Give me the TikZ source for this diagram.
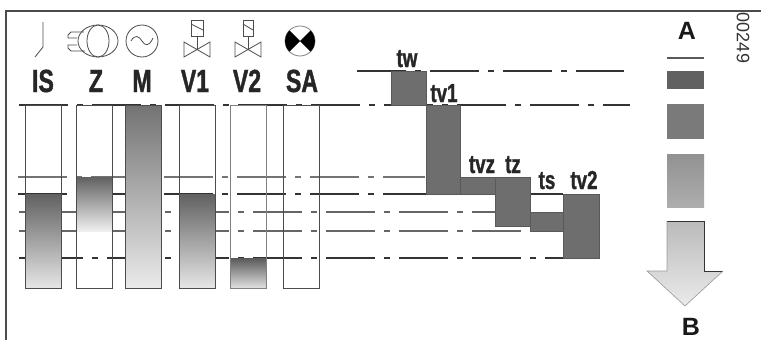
\documentclass[tikz,border=0pt]{standalone}
\usepackage{fontspec}
\setmainfont{Liberation Sans}
\newfontfamily\narrowfont[UprightFont=* Bold,FakeStretch=0.72,FakeBold=1.2]{Liberation Sans}
\usetikzlibrary{positioning,calc}

\tikzset{
	rail/.style={line width=1.1pt,color=black!80,dash pattern=on 49pt off 9pt on 6pt off 9pt},
	railb/.style={rail,dash phase=58pt},
	column/.style={draw=black!70,line width=0.8pt},
	block/.style={fill=black!57,draw=black!65,line width=0.5pt},
	icon/.style={draw=black!70,line width=0.8pt},
	biglabel/.style={font=\narrowfont\fontsize{32}{32}\selectfont,text=black!85,inner sep=0pt,anchor=base},
	timelabel/.style={font=\narrowfont\fontsize{26}{26}\selectfont,text=black!85,inner sep=0pt,anchor=base},
	legendlabel/.style={font=\fontsize{25}{25}\selectfont\bfseries,text=black!90,inner sep=0pt}
}

\begin{document}
\begin{tikzpicture}[x=1pt,y=-1pt]
		
		\useasboundingbox (0,0) rectangle (761,340);
		
		% frame
		\draw[black!70,line width=1.2pt] (6,340)--(6,11)--(761,11);
		
		% icons
		\draw[icon] (43,22)--(43,47)--(35,57);
		
		\draw[icon] (98,41) ellipse (20 and 16);
		\draw[icon] (98,41) ellipse (11 and 16);
		\draw[icon] (84,32)--(71,32)--(68,35)--(68,38)--(77,38);
		\draw[icon] (77,45)--(68,45)--(68,48)--(71,51)--(85,51);
		
		\draw[icon] (142,41) circle (16);
		\draw[icon] (131,41) .. controls (135,34) and (139,36) .. (142,41) .. controls (145,46) and (149,47) .. (153,38);
		
		\draw[icon] (191,20) rectangle (203,36);
		\draw[icon] (191,24)--(203,30);
		\draw[icon] (197,36)--(197,49);
		\draw[icon] (184,42)--(210,57)--(210,42)--(184,57)--cycle;
		
		\draw[icon] (243,20) rectangle (253,36);
		\draw[icon] (243,24)--(253,30);
		\draw[icon] (248,36)--(248,49);
		\draw[icon] (235,42)--(261,57)--(261,42)--(235,57)--cycle;
		
		\draw[icon,black!50] (300,41) circle (15);
		\fill[black] (300,41)--(289.5,30.5) arc (225:135:15)--cycle;
		\fill[black] (300,41)--(310.5,30.5) arc (-45:45:15)--cycle;
		
		% labels
		\node[biglabel] (is) at (43,92) {IS};
		\node[biglabel] (z) at (96,92) {Z};
		\node[biglabel] (m) at (142,92) {M};
		\node[biglabel] (v1) at (195,92) {V1};
		\node[biglabel] (v2) at (247,92) {V2};
		\node[biglabel] (sa) at (302,92) {SA};
		
		% time lines
		\draw[rail] (19,105)--(630,105);
		\draw[rail,black!55] (18,177)--(425,177);
		\draw[rail] (18,194)--(563,194);
		\draw[railb,black!60] (19,212)--(495,212);
		\draw[railb,black!60] (19,231)--(563,231);
		\draw[railb] (19,258)--(563,258);
		\draw[rail] (357,71)--(624,71);
		
		% columns
		\shade[top color=black!62,bottom color=black!10] (25,194) rectangle (61,288);
		\shade[top color=black!62,bottom color=black!6] (76,177) rectangle (112,231);
		\shade[top color=black!55,bottom color=black!8] (125,105) rectangle (161,288);
		\shade[top color=black!62,bottom color=black!10] (179,194) rectangle (215,288);
		\shade[top color=black!65,bottom color=black!12] (230,258) rectangle (266,288);
		
		\draw[column] (25,105) rectangle (61,288);
		\draw[column] (76,105) rectangle (112,288);
		\draw[column] (125,105) rectangle (161,288);
		\draw[column] (179,105) rectangle (215,288);
		\draw[column,black!50] (230,105) rectangle (266,288);
		\draw[column] (283,105) rectangle (319,288);
		
		% time blocks
		\node[biglabel,timelabel] (tw) at (407,67) {tw};
		\node[biglabel,timelabel] (tv1) at (444,102) {tv1};
		\node[biglabel,timelabel] (tvz) at (482,173) {tvz};
		\node[biglabel,timelabel] (tz) at (513,173) {tz};
		\node[biglabel,timelabel] (ts) at (547,189) {ts};
		\node[biglabel,timelabel] (tv2) at (584,189) {tv2};
		
		\draw[block] (391,71) rectangle (426,105);
		\draw[block] (426,105) rectangle (460,194);
		\draw[block] (460,177) rectangle (495,194);
		\draw[block] (495,177) rectangle (530,226);
		\draw[block] (530,212) rectangle (563,231);
		\draw[block] (563,194) rectangle (599,258);
		
		% legend
		\node[legendlabel] (a) at (687,31) {A};
		\node[legendlabel] (b) at (691,327) {B};
		\node[rotate=-90,font=\fontsize{18}{18}\selectfont,text=black!80,inner sep=0pt] (code) at (743,38) {00249};
		
		\draw[black!65,line width=2pt] (667,58)--(704,58);
		\fill[black!62] (667,71) rectangle (704,89);
		\fill[black!52] (667,104) rectangle (704,139);
		\shade[top color=black!43,bottom color=black!32] (667,154) rectangle (704,207);
		\shade[top color=black!27,bottom color=black!8] (667,221)--(704,221)--(704,271)--(723,271)--(685,306)--(647,271)--(667,271)--cycle;
		\draw[black!80,line width=0.6pt] (667,221)--(704,221)--(704,271)--(723,271);
		\draw[black!40,line width=0.6pt] (723,271)--(685,306)--(647,271)--(667,271)--(667,221);
		
	\end{tikzpicture}
\end{document}
